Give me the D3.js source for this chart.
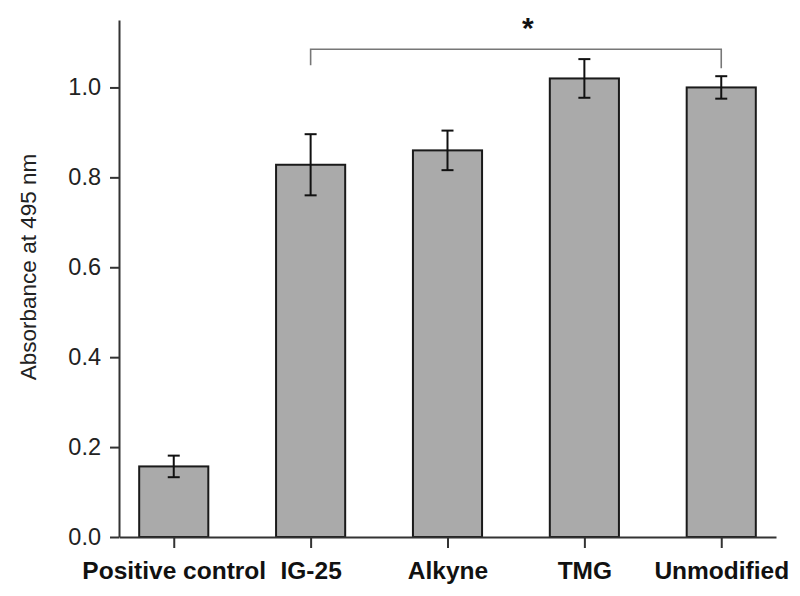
<!DOCTYPE html>
<html>
<head>
<meta charset="utf-8">
<script src="https://cdn.jsdelivr.net/npm/d3@7"></script>
<style>
  html, body { margin: 0; padding: 0; background: #fff; }
  svg { display: block; font-family: "Liberation Sans", Arial, sans-serif; }
</style>
</head>
<body>
<svg id="chart" width="800" height="596"></svg>
<script>
const categories = ["Positive control", "IG-25", "Alkyne", "TMG", "Unmodified"];
const values = [0.157, 0.828, 0.860, 1.020, 1.000];
const errors = [0.024, 0.068, 0.044, 0.043, 0.025];
const yTicks = [0.0, 0.2, 0.4, 0.6, 0.8, 1.0];
const sigPair = ["IG-25", "Unmodified"];
const sigLabel = "*";
const yLabel = "Absorbance at 495 nm";

const svg = d3.select("#chart");
const axisColor = "#333";

const x = d3.scalePoint().domain(categories).range([119, 776]).padding(0.4);
const y = d3.scaleLinear().domain([0, 1.15]).range([537, 20]);
const barW = x.step() * 0.505;

// bars
svg.append("g").selectAll("rect").data(categories).join("rect")
  .attr("x", d => x(d) - barW / 2)
  .attr("y", (d, i) => y(values[i]))
  .attr("width", barW)
  .attr("height", (d, i) => y(0) - y(values[i]))
  .attr("fill", "#aaaaaa")
  .attr("stroke", "#1a1a1a")
  .attr("stroke-width", 2);

// error bars
const eb = svg.append("g").attr("stroke", "#111").attr("stroke-width", 2);
categories.forEach((c, i) => {
  const cx = x(c), top = y(values[i] + errors[i]), bot = y(values[i] - errors[i]);
  eb.append("line").attr("x1", cx).attr("x2", cx).attr("y1", top).attr("y2", bot);
  eb.append("line").attr("x1", cx - 6).attr("x2", cx + 6).attr("y1", top).attr("y2", top);
  eb.append("line").attr("x1", cx - 6).attr("x2", cx + 6).attr("y1", bot).attr("y2", bot);
});

// axes
const yAxis = svg.append("g").attr("transform", `translate(119,0)`)
  .call(d3.axisLeft(y).tickValues(yTicks).tickFormat(d3.format(".1f")).tickSize(9).tickSizeOuter(0).tickPadding(9));
const xAxis = svg.append("g").attr("transform", `translate(0,537)`)
  .call(d3.axisBottom(x).tickSize(11).tickSizeOuter(0).tickPadding(14));

[yAxis, xAxis].forEach(g => {
  g.select(".domain").attr("stroke", axisColor).attr("stroke-width", 2);
  g.selectAll(".tick line").attr("stroke", axisColor).attr("stroke-width", 2);
  g.selectAll("text").attr("fill", "#222").style("font-family", '"Liberation Sans", Arial, sans-serif');
});
yAxis.selectAll("text").style("font-size", "23.5px");
xAxis.selectAll("text").style("font-size", "24.5px").style("font-weight", "bold").attr("fill", "#111");

// y label
svg.append("text")
  .attr("transform", `translate(36,267) rotate(-90)`)
  .attr("text-anchor", "middle")
  .style("font-size", "22.5px")
  .attr("fill", "#222")
  .text(yLabel);

// significance bracket
const bx1 = x(sigPair[0]), bx2 = x(sigPair[1]);
const by = y(1.085);
svg.append("path")
  .attr("d", `M${bx1},${by + 16}V${by}H${bx2}V${by + 19}`)
  .attr("fill", "none")
  .attr("stroke", "#777")
  .attr("stroke-width", 1.6);
svg.append("text")
  .attr("x", (bx1 + bx2) / 2 + 12)
  .attr("y", 38)
  .attr("text-anchor", "middle")
  .style("font-size", "30px")
  .style("font-weight", "bold")
  .attr("fill", "#111")
  .text(sigLabel);
</script>
</body>
</html>
